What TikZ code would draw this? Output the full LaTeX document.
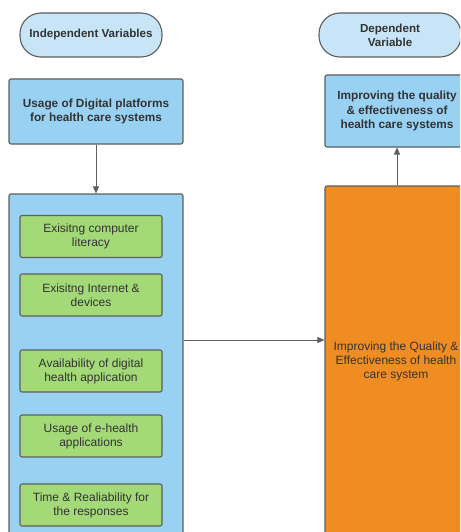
\documentclass[tikz,border=0pt]{standalone}
\usepackage{fontspec}
\setmainfont{Liberation Sans}
\usetikzlibrary{arrows.meta}
\definecolor{edge}{HTML}{5E5E5E}
\definecolor{txt}{HTML}{333333}
\definecolor{pale}{HTML}{C7E5F7}
\definecolor{sky}{HTML}{99D1F3}
\definecolor{leaf}{HTML}{A3D977}
\definecolor{amber}{HTML}{EF8D22}
\tikzset{
  base/.style={draw=edge, line width=1.1pt, inner sep=0pt, text=txt, align=center, font=\fontsize{12}{14}\selectfont},
  pill/.style={base, fill=pale, rounded corners=21pt, font=\bfseries\fontsize{11.6}{14}\selectfont},
  bluebox/.style={base, fill=sky, rounded corners=2pt, font=\bfseries\fontsize{11.8}{14.8}\selectfont},
  greenbox/.style={base, fill=leaf, rounded corners=2pt, minimum width=142pt, minimum height=42pt},
  orangebox/.style={base, fill=amber, rounded corners=2pt},
  conn/.style={draw=edge, line width=0.9pt, -{Triangle[length=7pt,width=6pt]}},
  lbl/.style={text=txt, align=center, font=\fontsize{12}{14}\selectfont, inner sep=0pt}
}
\begin{document}
\begin{tikzpicture}[x=1pt,y=-1pt]
\useasboundingbox (0,0) rectangle (460,532);
\clip (0,0) rectangle (460,532);
\fill[white] (0,0) rectangle (460,532);
% headers
\node[pill, minimum width=142pt, minimum height=44pt] (iv) at (91,35) {Independent Variables};
\node[pill, minimum width=142pt, minimum height=44pt] (dv) at (390,35) {Dependent\\Variable};
% top boxes
\node[bluebox, minimum width=174pt, minimum height=65pt] (b1) at (96,111.5) {Usage of Digital platforms\\for health care systems};
\node[bluebox, minimum width=144pt, minimum height=72pt] (tr) at (397,111) {Improving the quality\\\& effectiveness of\\health care systems};
% big containers
\node[bluebox, minimum width=174pt, minimum height=366pt] (big) at (96,377) {};
\node[orangebox, minimum width=144pt, minimum height=374pt] (orange) at (397,373) {};
\node[lbl] (olabel) at (396,361) {Improving the Quality \&\\Effectiveness of health\\care system};
% green boxes
\node[greenbox] (g1) at (91,236.5) {Exisitng computer\\literacy};
\node[greenbox] (g2) at (91,295) {Exisitng Internet \&\\devices};
\node[greenbox] (g3) at (91,371) {Availability of digital\\health application};
\node[greenbox] (g4) at (91,436) {Usage of e-health\\applications};
\node[greenbox] (g5) at (91,505) {Time \& Realiability for\\the responses};
% connectors
\coordinate (h) at (0,340);
\draw[conn] (b1.south) -- (big.north);
\draw[conn] (orange.north) -- (tr.south);
\draw[conn] (big.east |- h) -- (orange.west |- h);
\end{tikzpicture}
\end{document}
